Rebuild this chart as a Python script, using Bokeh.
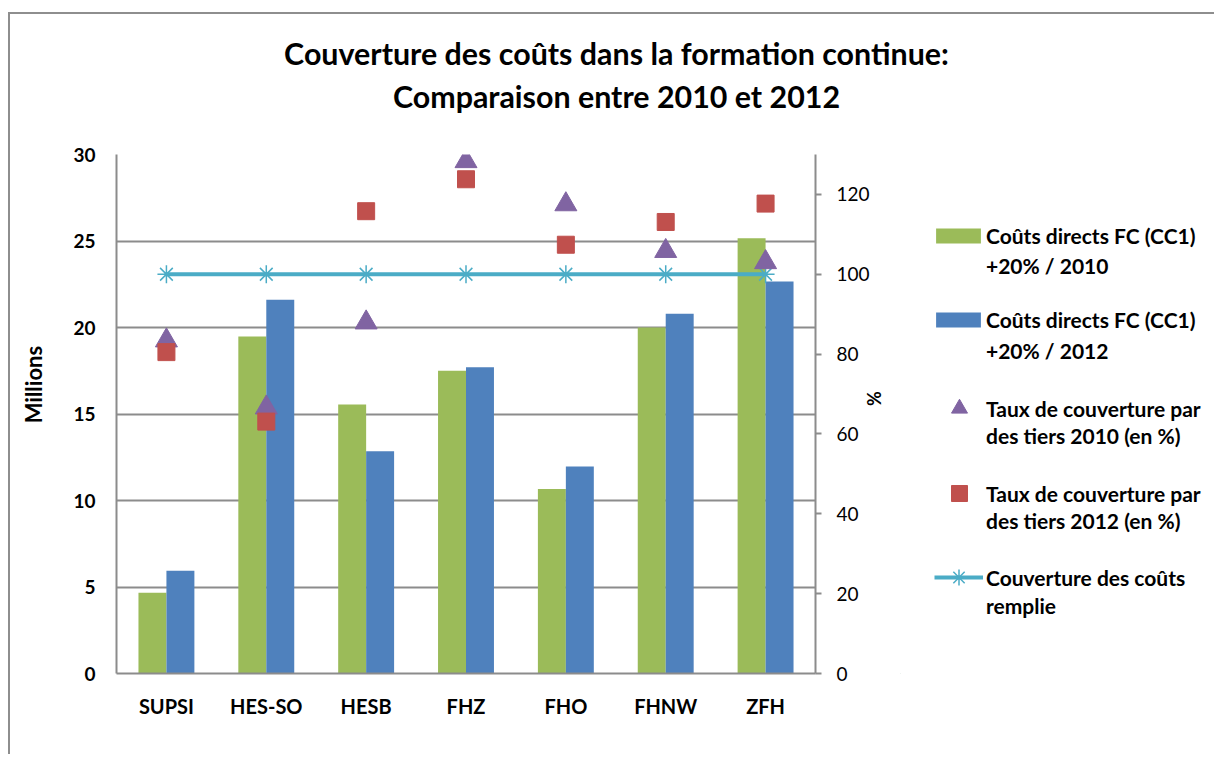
from bokeh.plotting import figure
from bokeh.layouts import row, column
from bokeh.models import Range1d, LinearAxis, FixedTicker, Legend, LegendItem, Label, ColumnDataSource
from bokeh.transform import dodge
from bokeh.embed import file_html
from bokeh.resources import INLINE

categories = ["SUPSI", "HES-SO", "HESB", "FHZ", "FHO", "FHNW", "ZFH"]
costs_2010 = [4.67, 19.48, 15.55, 17.5, 10.67, 20.0, 25.16]
costs_2012 = [5.94, 21.6, 12.85, 17.7, 11.96, 20.8, 22.66]
rate_2010 = [83.4, 66.6, 87.9, 128.3, 117.5, 105.8, 103.0]
rate_2012 = [80.5, 63.1, 115.8, 123.8, 107.4, 113.1, 117.7]
full_cover = [100, 100, 100, 100, 100, 100, 100]
left_ticks = [0, 5, 10, 15, 20, 25, 30]
right_ticks = [0, 20, 40, 60, 80, 100, 120]

title_lines = ["Couverture des coûts dans la formation continue:",
               "Comparaison entre 2010 et 2012"]
legend_lines = [("Coûts directs FC (CC1)", "+20% / 2010"),
                ("Coûts directs FC (CC1)", "+20% / 2012"),
                ("Taux de couverture par", "des tiers 2010 (en %)"),
                ("Taux de couverture par", "des tiers 2012 (en %)"),
                ("Couverture des coûts", "remplie")]
left_label = "Millions"
right_label = "%"

FONT = "Lato"
GREEN = "#9BBB59"
BLUE = "#4F81BD"
PURPLE = "#8064A2"
RED = "#C0504D"
CYAN = "#4BACC6"
GRAY = "#8C8C8C"
NBSP = "\u00a0"

src = ColumnDataSource(dict(cat=categories, c10=costs_2010, c12=costs_2012,
                            r10=rate_2010, r12=rate_2012, full=full_cover))

TOTAL_W = 1204
HT = 126          # title strip height
H = 614           # chart height
W1 = 890
FRAME_BOTTOM_PAGE = 673

# ---- title strip ----
pt = figure(width=TOTAL_W, height=HT, x_range=Range1d(0, 1), y_range=Range1d(0, 1),
            output_backend="svg", toolbar_location=None, min_border=0,
            x_axis_location=None, y_axis_location=None, outline_line_color=None)
pt.grid.visible = False
for txt, ypos in zip(title_lines, (88, 45)):
    pt.add_layout(Label(x=606, y=ypos, x_units="screen", y_units="screen", text=txt,
                        text_align="center", text_baseline="alphabetic",
                        text_font=FONT, text_font_style="bold", text_font_size="30.4px",
                        text_color="black"))

# ---- main chart ----
p = figure(x_range=categories, y_range=Range1d(0, 30), width=W1, height=H,
           output_backend="svg", toolbar_location=None,
           min_border_left=106, min_border_top=14, min_border_right=W1 - 805, min_border_bottom=81)
p.extra_y_ranges = {"pct": Range1d(0, 130)}
p.outline_line_color = None

p.vbar(x=dodge("cat", -0.14, range=p.x_range), top="c10", width=0.28, source=src,
       fill_color=GREEN, line_color=None)
p.vbar(x=dodge("cat", 0.14, range=p.x_range), top="c12", width=0.28, source=src,
       fill_color=BLUE, line_color=None)
p.line(x="cat", y="full", source=src, y_range_name="pct", line_color=CYAN, line_width=4)
p.scatter(x="cat", y="full", source=src, y_range_name="pct", marker="asterisk",
          size=18, line_color=CYAN, line_width=1.5)
p.scatter(x="cat", y="r10", source=src, y_range_name="pct", marker="triangle",
          size=22, fill_color=PURPLE, line_color=PURPLE)
p.scatter(x="cat", y="r12", source=src, y_range_name="pct", marker="square",
          size=17, fill_color=RED, line_color=RED)

p.yaxis.ticker = FixedTicker(ticks=left_ticks)
# leading no-break spaces lift the label above the frame centre, as in the original
p.yaxis.axis_label = NBSP * 11 + left_label
p.yaxis.axis_label_text_font = FONT
p.yaxis.axis_label_text_font_style = "bold"
p.yaxis.axis_label_text_font_size = "22px"
p.yaxis.axis_label_text_color = "black"
p.yaxis.axis_label_standoff = 23
p.yaxis.major_label_text_font = FONT
p.yaxis.major_label_text_font_style = "bold"
p.yaxis.major_label_text_font_size = "19px"
p.yaxis.major_label_text_color = "black"
p.yaxis.major_label_standoff = 21
p.yaxis.major_tick_out = 0
p.yaxis.major_tick_in = 0
p.yaxis.major_tick_line_color = None
p.yaxis.minor_tick_line_color = None
p.yaxis.axis_line_color = GRAY
p.yaxis.axis_line_width = 2

p.xaxis.major_label_text_font = FONT
p.xaxis.major_label_text_font_style = "bold"
p.xaxis.major_label_text_font_size = "20px"
p.xaxis.major_label_text_color = "black"
p.xaxis.major_label_standoff = 20
p.xaxis.major_tick_out = 0
p.xaxis.major_tick_line_color = None
p.xaxis.axis_line_color = GRAY
p.xaxis.axis_line_width = 2

ry = LinearAxis(y_range_name="pct", ticker=FixedTicker(ticks=right_ticks),
                axis_label=right_label + NBSP * 7)
ry.axis_label_text_font = FONT
ry.axis_label_text_font_style = "bold"
ry.axis_label_text_font_size = "18px"
ry.axis_label_text_color = "black"
ry.axis_label_standoff = -10
ry.major_label_text_font = FONT
ry.major_label_text_font_size = "19px"
ry.major_label_text_color = "black"
ry.major_label_standoff = 15
ry.major_tick_out = 6
ry.major_tick_in = 0
ry.major_tick_line_color = GRAY
ry.major_tick_line_width = 2
ry.minor_tick_line_color = None
ry.axis_line_color = GRAY
ry.axis_line_width = 2
p.add_layout(ry, "right")

p.xgrid.grid_line_color = None
p.ygrid.ticker = FixedTicker(ticks=left_ticks)
p.ygrid.grid_line_color = GRAY
p.ygrid.grid_line_width = 2

# ---- legend panel ----
W2 = TOTAL_W - W1
p2 = figure(width=W2, height=H, x_range=Range1d(0, 1), y_range=Range1d(0, 1),
            output_backend="svg", toolbar_location=None, min_border=0,
            x_axis_location=None, y_axis_location=None, outline_line_color=None)
p2.grid.visible = False
# legend swatches (kept outside the visible range of this panel)
g1 = p2.vbar(x=[-5], top=[-5], width=0.5, fill_color=GREEN, line_color=None)
g2 = p2.vbar(x=[-5], top=[-5], width=0.5, fill_color=BLUE, line_color=None)
g3 = p2.scatter(x=[-5], y=[-5], marker="triangle", fill_color=PURPLE, line_color=PURPLE)
g4 = p2.scatter(x=[-5], y=[-5], marker="square", fill_color=RED, line_color=RED)
g5a = p2.line(x=[-5, -4], y=[-5, -5], line_color=CYAN, line_width=4)
g5b = p2.scatter(x=[-5], y=[-5], marker="asterisk", line_color=CYAN, line_width=1.5)
blank = p2.scatter(x=[-5], y=[-5], fill_alpha=0, line_alpha=0)

glyph_sets = [[g1], [g2], [g3], [g4], [g5a, g5b]]
# (glyph width, glyph height, x offset, standoff) per legend entry
shapes = [(56, 19, 30, 0), (56, 19, 30, 0), (40, 40, 39, 7), (40, 40, 39, 7), (49, 40, 34, 3)]
line_centers = [(238, 268), (322, 353), (408, 438), (493, 523), (577, 608)]


def add_legend(label, rends, gw, gh, x0, so, center):
    lg = Legend(items=[LegendItem(label=label, renderers=rends)],
                location=(x0, FRAME_BOTTOM_PAGE - center - gh / 2), padding=0, margin=0,
                glyph_width=gw, glyph_height=gh, label_height=gh, label_standoff=so,
                label_text_font=FONT, label_text_font_style="bold",
                label_text_font_size="21px", label_text_color="black",
                border_line_color=None, background_fill_alpha=0)
    p2.add_layout(lg, "center")


for (l1, l2), rends, (gw, gh, x0, so), (c1, c2) in zip(legend_lines, glyph_sets, shapes, line_centers):
    add_legend(l1, rends, gw, gh, x0, so, c1)
    add_legend(l2, [blank], 56, 20, 30, 0, c2)

lay = column(pt, row(p, p2))
lay.styles = {"border-top": "2px solid #8E8E8E", "border-left": "2px solid #8E8E8E",
              "margin-top": "12px", "margin-left": "8px"}

open("out.html", "w").write(file_html(lay, INLINE))
